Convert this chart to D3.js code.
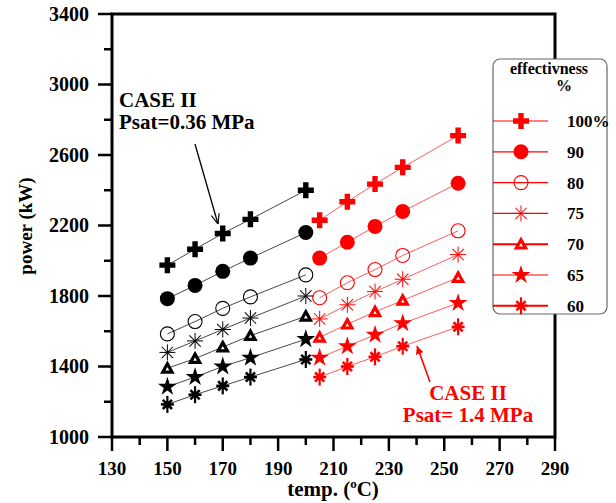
<!DOCTYPE html>
<html>
<head>
<meta charset="utf-8">
<script src="https://cdn.jsdelivr.net/npm/d3@7"></script>
<style>
  body { margin: 0; background: #fff; }
  text { font-family: "Liberation Serif", "Times New Roman", serif; font-weight: bold; }
</style>
</head>
<body>
<div id="chart"></div>
<script>
// data
const tempLow = [150, 160, 170, 180, 200];
const tempHigh = [205, 215, 225, 235, 255];
const effLabels = ["100%", "90", "80", "75", "70", "65", "60"];
const markerKinds = ["plus", "disc", "ring", "aster", "tri", "star", "heavy"];
// Psat = 0.36 MPa (black), one row per effectiveness
const powerLow = [
  [1975, 2065, 2155, 2235, 2400],
  [1785, 1860, 1940, 2015, 2160],
  [1585, 1655, 1730, 1795, 1920],
  [1480, 1545, 1610, 1675, 1800],
  [1390, 1445, 1510, 1575, 1685],
  [1285, 1340, 1400, 1450, 1555],
  [1185, 1240, 1290, 1340, 1440]
];
// Psat = 1.4 MPa (red)
const powerHigh = [
  [2230, 2335, 2435, 2530, 2710],
  [2015, 2105, 2195, 2280, 2440],
  [1790, 1875, 1950, 2030, 2170],
  [1670, 1750, 1825, 1895, 2035],
  [1565, 1640, 1710, 1775, 1905],
  [1450, 1515, 1580, 1645, 1760],
  [1340, 1400, 1455, 1515, 1625]
];
const xTicks = [130, 150, 170, 190, 210, 230, 250, 270, 290];
const yTicks = [1000, 1400, 1800, 2200, 2600, 3000, 3400];

const W = 616, H = 503;
const margin = {top: 14, right: 61, bottom: 66, left: 112};
const width = W - margin.left - margin.right,
      height = H - margin.top - margin.bottom;

const svg = d3.select("#chart").append("svg")
  .attr("width", W).attr("height", H);

const xScale = d3.scaleLinear().domain([130, 290]).range([margin.left, margin.left + width]);
const yScale = d3.scaleLinear().domain([1000, 3400]).range([margin.top + height, margin.top]);

// minor ticks
const xMinor = d3.range(140, 290, 20);
const yMinor = d3.range(1200, 3400, 400);

// frame
svg.append("rect")
  .attr("x", margin.left).attr("y", margin.top)
  .attr("width", width).attr("height", height)
  .attr("fill", "none").attr("stroke", "#000").attr("stroke-width", 3);

// x axis
const xAxis = svg.append("g").attr("transform", "translate(0," + (margin.top + height) + ")");
xAxis.selectAll(".maj").data(xTicks).enter().append("line")
  .attr("x1", d => xScale(d)).attr("x2", d => xScale(d))
  .attr("y1", 0).attr("y2", 14).attr("stroke", "#000").attr("stroke-width", 2.5);
xAxis.selectAll(".min").data(xMinor).enter().append("line")
  .attr("x1", d => xScale(d)).attr("x2", d => xScale(d))
  .attr("y1", 0).attr("y2", 8).attr("stroke", "#000").attr("stroke-width", 2.5);
xAxis.selectAll("text").data(xTicks).enter().append("text")
  .attr("x", d => xScale(d)).attr("y", 38)
  .attr("text-anchor", "middle").style("font-size", "19px")
  .text(d => d);

// y axis
const yAxis = svg.append("g").attr("transform", "translate(" + margin.left + ",0)");
yAxis.selectAll(".maj").data(yTicks).enter().append("line")
  .attr("x1", -14).attr("x2", 0)
  .attr("y1", d => yScale(d)).attr("y2", d => yScale(d))
  .attr("stroke", "#000").attr("stroke-width", 2.5);
yAxis.selectAll(".min").data(yMinor).enter().append("line")
  .attr("x1", -8).attr("x2", 0)
  .attr("y1", d => yScale(d)).attr("y2", d => yScale(d))
  .attr("stroke", "#000").attr("stroke-width", 2.5);
yAxis.selectAll("text").data(yTicks).enter().append("text")
  .attr("x", -23).attr("y", d => yScale(d) + 6.5)
  .attr("text-anchor", "end").style("font-size", "20px")
  .text(d => d);

// axis titles
svg.append("text")
  .attr("transform", "translate(32,226) rotate(-90)")
  .attr("text-anchor", "middle").style("font-size", "19px")
  .text("power (kW)");
const xt = svg.append("text")
  .attr("x", 333).attr("y", 496)
  .attr("text-anchor", "middle").style("font-size", "21px");
xt.append("tspan").text("temp. (");
xt.append("tspan").attr("dy", -8).style("font-size", "13px").text("o");
xt.append("tspan").attr("dy", 8).text("C)");

// marker drawing
function drawMarker(g, kind, color, cx, cy) {
  const m = g.append("g").attr("transform", "translate(" + cx + "," + cy + ")");
  if (kind == "plus") {
    m.append("path")
      .attr("d", "M-2.7,-8H2.7V-2.7H8V2.7H2.7V8H-2.7V2.7H-8V-2.7H-2.7Z")
      .attr("fill", color);
  } else if (kind == "disc") {
    m.append("circle").attr("r", 7.5).attr("fill", color);
  } else if (kind == "ring") {
    m.append("circle").attr("r", 7).attr("fill", "none")
      .attr("stroke", color).attr("stroke-width", 1.1);
  } else if (kind == "aster") {
    [0, 45, 90, 135].forEach(a => {
      m.append("line").attr("x1", -8).attr("x2", 8)
        .attr("transform", "rotate(" + a + ")")
        .attr("stroke", color).attr("stroke-width", 1);
    });
  } else if (kind == "tri") {
    m.append("path").attr("d", "M0,-4.5L4.6,3.8L-4.6,3.8Z")
      .attr("fill", "#fff").attr("stroke", color).attr("stroke-width", 3.2)
      .attr("stroke-linejoin", "miter");
  } else if (kind == "star") {
    m.append("path").attr("d", d3.symbol().type(d3.symbolStar).size(110)())
      .attr("fill", color);
  } else if (kind == "heavy") {
    [0, 45, 90, 135].forEach((a, i) => {
      m.append("line").attr("x1", i == 2 ? -8.5 : -6.5).attr("x2", i == 2 ? 8.5 : 6.5)
        .attr("transform", "rotate(" + a + ")")
        .attr("stroke", color).attr("stroke-width", i == 2 ? 2.2 : 2.6);
    });
    m.append("circle").attr("r", 3.2).attr("fill", color);
  }
}

const line = d3.line().x(d => xScale(d[0])).y(d => yScale(d[1]));

function drawGroup(temps, rows, color, lineColor) {
  const g = svg.append("g");
  rows.forEach((vals, k) => {
    const pts = temps.map((t, i) => [t, vals[i]]);
    g.append("path").datum(pts)
      .attr("d", line).attr("fill", "none")
      .attr("stroke", lineColor).attr("stroke-width", 0.9);
  });
  rows.forEach((vals, k) => {
    temps.forEach((t, i) => drawMarker(g, markerKinds[k], color, xScale(t), yScale(vals[i])));
  });
}
drawGroup(tempLow, powerLow, "#000", "#333");
drawGroup(tempHigh, powerHigh, "#ff0000", "#ff4a4a");

// annotations
svg.append("defs").append("marker")
  .attr("id", "arrBlack").attr("viewBox", "0 0 10 10")
  .attr("refX", 10).attr("refY", 5).attr("markerWidth", 10).attr("markerHeight", 10)
  .attr("markerUnits", "userSpaceOnUse").attr("orient", "auto")
  .append("path").attr("d", "M0,1L10,5L0,9").attr("fill", "none").attr("stroke", "#000").attr("stroke-width", 1.2);
svg.select("defs").append("marker")
  .attr("id", "arrRed").attr("viewBox", "0 0 10 10")
  .attr("refX", 10).attr("refY", 5).attr("markerWidth", 8).attr("markerHeight", 8)
  .attr("markerUnits", "userSpaceOnUse").attr("orient", "auto")
  .append("path").attr("d", "M0,0L10,5L0,10Z").attr("fill", "#ff0000");

svg.append("text").attr("x", 119).attr("y", 107).style("font-size", "21px").text("CASE II");
svg.append("text").attr("x", 119).attr("y", 129).style("font-size", "21px").text("Psat=0.36 MPa");
svg.append("line").attr("x1", 195).attr("y1", 144).attr("x2", 218).attr("y2", 224)
  .attr("stroke", "#000").attr("stroke-width", 1.3).attr("marker-end", "url(#arrBlack)");

svg.append("text").attr("x", 468).attr("y", 400).attr("text-anchor", "middle")
  .attr("fill", "#ff0000").style("font-size", "21px").text("CASE II");
svg.append("text").attr("x", 468).attr("y", 422).attr("text-anchor", "middle")
  .attr("fill", "#ff0000").style("font-size", "21px").text("Psat= 1.4 MPa");
svg.append("line").attr("x1", 430).attr("y1", 382).attr("x2", 417).attr("y2", 346)
  .attr("stroke", "#ff0000").attr("stroke-width", 1.6).attr("marker-end", "url(#arrRed)");

// legend
const lg = svg.append("g");
lg.append("rect").attr("x", 493).attr("y", 59).attr("width", 114).attr("height", 255)
  .attr("rx", 7).attr("fill", "#fff").attr("stroke", "#666").attr("stroke-width", 1.2);
lg.append("text").attr("x", 549).attr("y", 74).attr("text-anchor", "middle")
  .style("font-size", "16px").text("effectivness");
lg.append("text").attr("x", 564).attr("y", 91).attr("text-anchor", "middle")
  .style("font-size", "16px").text("%");
effLabels.forEach((lab, k) => {
  const cy = 121 + k * 30.8;
  lg.append("line").attr("x1", 493).attr("x2", 548).attr("y1", cy).attr("y2", cy)
    .attr("stroke", "#ff0000").attr("stroke-width", (k == 4 || k == 6) ? 2 : 1.2);
  drawMarker(lg, markerKinds[k], "#ff0000", 521, cy);
  lg.append("text").attr("x", 567).attr("y", cy + 6).style("font-size", "17px").text(lab);
});
</script>
</body>
</html>
